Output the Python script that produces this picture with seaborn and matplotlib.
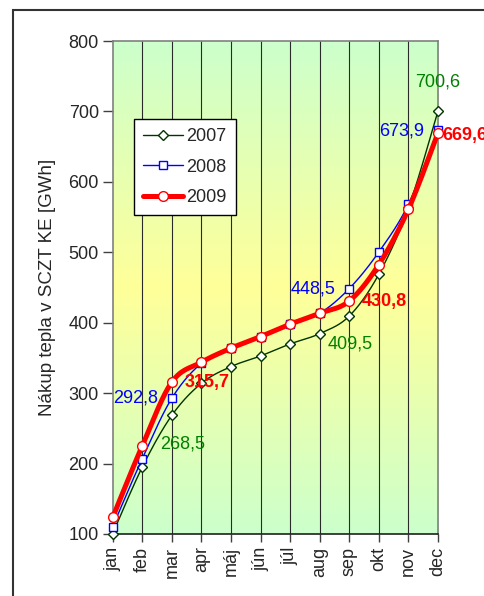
import numpy as np
import pandas as pd
import matplotlib
matplotlib.use("Agg")
import matplotlib.pyplot as plt
import seaborn as sns
from matplotlib.lines import Line2D
from matplotlib.patches import Rectangle
from matplotlib.colors import LinearSegmentedColormap

months = ['jan', 'feb', 'mar', 'apr', 'máj', 'jún', 'júl', 'aug', 'sep', 'okt', 'nov', 'dec']
v2007 = [100.5, 195.0, 268.5, 314.0, 337.7, 352.8, 369.9, 384.5, 409.5, 468.9, 563.0, 700.6]
v2008 = [110.4, 207.0, 292.8, 342.5, 363.8, 380.3, 397.9, 413.4, 448.5, 500.4, 568.3, 673.9]
v2009 = [123.5, 225.2, 315.7, 343.9, 363.8, 380.3, 397.9, 413.4, 430.8, 482.6, 561.2, 669.6]
yticks = [100, 200, 300, 400, 500, 600, 700, 800]
ylabel = "Nákup tepla v SCZT KE [GWh]"

sns.set_theme(style="white")
plt.rcParams['font.family'] = ['Liberation Sans', 'DejaVu Sans']

fig = plt.figure(figsize=(4.84, 5.96), dpi=100)
ax = fig.add_axes([112.7 / 484, (596 - 534) / 596, (438 - 112.7) / 484, (534 - 41) / 596])

# gradient background
cmap = LinearSegmentedColormap.from_list("bg", ["#CCFFCC", "#FFFF99", "#CCFFCC"])
grad = np.linspace(0, 1, 256).reshape(-1, 1)
ax.imshow(grad, aspect='auto', cmap=cmap, extent=(0, 11, 100, 800), zorder=0, origin='upper')

x = np.arange(len(months))


def smooth(xs, ys, n=30):
    xs = np.asarray(xs, float)
    ys = np.asarray(ys, float)
    P = np.column_stack([xs, ys])
    P = np.vstack([P[0], P, P[-1]])
    out = []
    t = np.linspace(0, 1, n, endpoint=False)
    for i in range(1, len(P) - 2):
        p0, p1, p2, p3 = P[i - 1], P[i], P[i + 1], P[i + 2]
        c1 = p1 + (p2 - p0) / 6.0
        c2 = p2 - (p3 - p1) / 6.0
        tt = t[:, None]
        pts = ((1 - tt) ** 3) * p1 + 3 * ((1 - tt) ** 2) * tt * c1 + 3 * (1 - tt) * tt ** 2 * c2 + tt ** 3 * p2
        out.append(pts)
    out.append(P[-2][None, :])
    out = np.vstack(out)
    return out[:, 0], out[:, 1]


series = [
    ("2007", v2007, "#003300", 1.0, "D", 5.0, "#003300"),
    ("2008", v2008, "#0000FF", 1.0, "s", 6.0, "#0000FF"),
    ("2009", v2009, "#FF0000", 3.6, "o", 7.0, "#FF0000"),
]

for z, (name, vals, col, lw, mk, ms, ec) in enumerate(series):
    sx, sy = smooth(x, vals)
    sns.lineplot(x=sx, y=sy, ax=ax, color=col, linewidth=lw, sort=False,
                 estimator=None, zorder=3 + z, clip_on=False)
    ax.plot(x, vals, linestyle='none', marker=mk, markersize=ms, markerfacecolor='white',
            markeredgecolor=ec, markeredgewidth=1.0, zorder=3.5 + z, clip_on=False)

ax.set_xlim(0, 11)
ax.set_ylim(100, 800)
ax.set_yticks(yticks)
ax.set_xticks(x)
ax.set_xticklabels(months, rotation=90, fontsize=13)
ax.set_yticklabels([str(v) for v in yticks], fontsize=13)
ax.set_ylabel(ylabel, fontsize=13.5, labelpad=9)
ax.set_xlabel("")

for xi in x[1:-1]:
    ax.axvline(xi, color='#2a2a2a', linewidth=0.8, zorder=1)

ax.tick_params(axis='y', direction='out', length=7, width=1, color='#404040', pad=3, left=True)
ax.tick_params(axis='x', direction='out', length=6, width=1, color='#404040', pad=3, bottom=True)
for side in ['left', 'top', 'right']:
    ax.spines[side].set_color('#808080')
    ax.spines[side].set_linewidth(1.2)
ax.spines['bottom'].set_color('#202020')
ax.spines['bottom'].set_linewidth(1.2)

# data labels
lab_fs = 13
def lab(i, vals, col, dx, dy, ha, va, bold=False):
    ax.annotate(f"{vals[i]:.1f}".replace('.', ','), (x[i], vals[i]), xytext=(dx, dy),
                textcoords='offset points', ha=ha, va=va, color=col, fontsize=lab_fs,
                fontweight='bold' if bold else 'normal', annotation_clip=False, zorder=10)

g, b, r = "#008000", "#0000FF", "#FF0000"
lab(2, v2007, g, 8, -21, 'center', 'center')
lab(8, v2007, g, 1, -20, 'center', 'center')
lab(11, v2007, g, 0, 21, 'center', 'center')
lab(2, v2008, b, -10, 0, 'right', 'center')
lab(8, v2008, b, -10, 0, 'right', 'center')
lab(11, v2008, b, -10, -1, 'right', 'center')
lab(2, v2009, r, 9, 0, 'left', 'center', True)
lab(8, v2009, r, 9, 0, 'left', 'center', True)
lab(11, v2009, r, 3, -2, 'left', 'center', True)

handles = [Line2D([0], [0], color=c, linewidth=lw, marker=mk, markersize=ms,
                  markerfacecolor='white', markeredgecolor=ec, markeredgewidth=1.0)
           for (_, _, c, lw, mk, ms, ec) in series]
leg = ax.legend(handles, [s[0] for s in series], loc='upper left',
                bbox_to_anchor=((134 - 112.7) / 325.3, (534 - 119) / 493),
                borderaxespad=0, frameon=True, fancybox=False, framealpha=1,
                edgecolor='black', fontsize=13, handlelength=2.2, labelspacing=0.75,
                handletextpad=0.2, borderpad=0.5)
leg.get_frame().set_linewidth(1.0)
leg.set_zorder(20)

# outer border (clipped at right/bottom as in the reference)
fig.patches.append(Rectangle((13 / 484, -0.1), 1.2, 1.1 - 10 / 596, transform=fig.transFigure,
                             fill=False, edgecolor='#333333', linewidth=1.5, zorder=0))

fig.savefig("out.png", dpi=100)
